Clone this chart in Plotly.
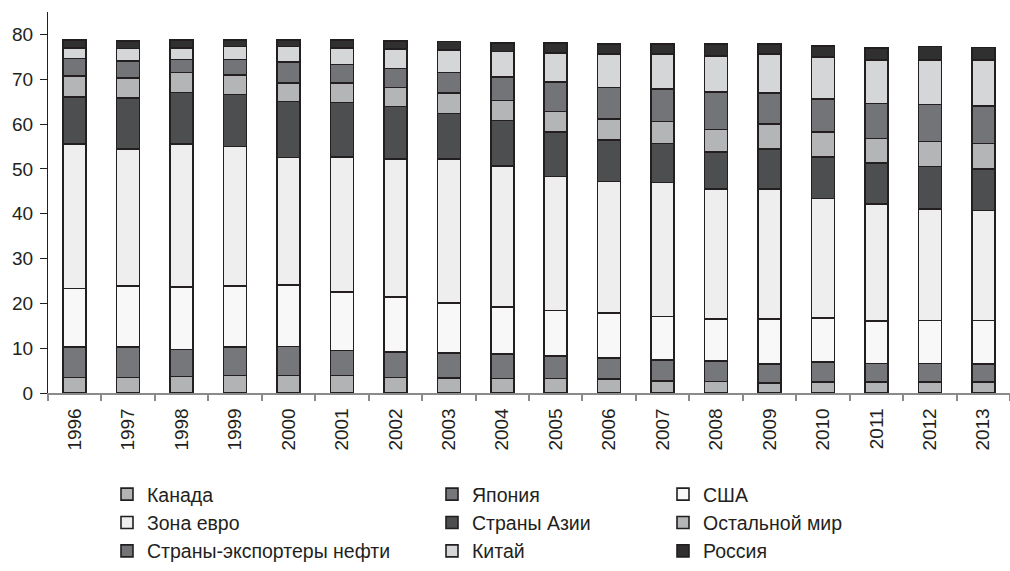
import plotly.graph_objects as go

years = [str(y) for y in range(1996, 2014)]

canada = [3.5, 3.5, 3.7, 3.9, 3.9, 3.9, 3.5, 3.3, 3.2, 3.2, 3.1, 2.7, 2.6, 2.2, 2.4, 2.4, 2.4, 2.4]
japan = [6.7, 6.7, 6.0, 6.3, 6.5, 5.6, 5.6, 5.6, 5.5, 5.1, 4.7, 4.7, 4.6, 4.3, 4.5, 4.2, 4.2, 4.1]
usa = [13.1, 13.7, 13.9, 13.7, 13.7, 13.1, 12.3, 11.2, 10.5, 10.1, 10.0, 9.7, 9.3, 10.0, 9.8, 9.4, 9.6, 9.7]
euro = [32.3, 30.5, 32.0, 31.1, 28.4, 30.0, 30.8, 32.1, 31.5, 29.9, 29.4, 29.9, 29.0, 29.0, 26.7, 26.2, 24.9, 24.5]
asia = [10.5, 11.4, 11.4, 11.6, 12.5, 12.2, 11.7, 10.2, 10.1, 9.9, 9.3, 8.7, 8.3, 9.0, 9.3, 9.1, 9.4, 9.3]
rest = [4.6, 4.5, 4.5, 4.3, 4.1, 4.3, 4.3, 4.5, 4.5, 4.6, 4.6, 4.9, 5.0, 5.5, 5.5, 5.5, 5.6, 5.7]
oil = [3.9, 3.8, 2.9, 3.5, 4.7, 4.2, 4.2, 4.6, 5.2, 6.6, 7.1, 7.2, 8.4, 6.9, 7.4, 7.8, 8.3, 8.3]
china = [2.4, 2.8, 2.6, 2.9, 3.5, 3.7, 4.3, 5.0, 5.7, 6.5, 7.4, 7.8, 8.0, 8.7, 9.3, 9.7, 9.9, 10.3]
russia = [1.8, 1.6, 1.7, 1.4, 1.5, 1.8, 1.8, 1.9, 1.9, 2.2, 2.2, 2.3, 2.7, 2.2, 2.5, 2.7, 3.0, 2.8]

series_names = ["Канада", "Япония", "США", "Зона евро", "Страны Азии",
                "Остальной мир", "Страны-экспортеры нефти", "Китай", "Россия"]
series_values = [canada, japan, usa, euro, asia, rest, oil, china, russia]
series_colors = ["#b2b3b5", "#76777b", "#f8f8f8", "#eeeeee", "#4d4e50",
                 "#b4b5b7", "#737478", "#d5d6d8", "#303031"]
# legend column for each series (row-major 3 columns)
series_legend = ["legend", "legend2", "legend3",
                 "legend", "legend2", "legend3",
                 "legend", "legend2", "legend3"]

FONT = "Liberation Sans, Arial, sans-serif"
TXT = "#231f20"

fig = go.Figure()
for name, vals, col, lg in zip(series_names, series_values, series_colors, series_legend):
    fig.add_trace(go.Bar(
        x=years, y=vals, name=name,
        marker=dict(color=col, line=dict(color=TXT, width=1.6)),
        legend=lg, legendgroup=name,
    ))

leg_common = dict(
    orientation="v", traceorder="normal", tracegroupgap=13,
    font=dict(family=FONT, size=19.5, color=TXT),
    bgcolor="rgba(0,0,0,0)", borderwidth=0,
    xref="container", yref="container", xanchor="left", yanchor="top",
)

fig.update_layout(
    width=1010, height=571,
    barmode="stack", bargap=0.57,
    paper_bgcolor="white", plot_bgcolor="white",
    margin=dict(l=48, r=0, t=12, b=178, autoexpand=False),
    font=dict(family=FONT, size=19, color=TXT),
    legend=dict(x=107 / 1010, y=1 - 475 / 571, **leg_common),
    legend2=dict(x=432 / 1010, y=1 - 475 / 571, **leg_common),
    legend3=dict(x=663 / 1010, y=1 - 475 / 571, **leg_common),
    xaxis=dict(
        type="category", tickson="boundaries",
        ticks="outside", ticklen=6, tickcolor="#8a8a8a", tickwidth=1.5,
        showline=True, linecolor="#8a8a8a", linewidth=1.5,
        tickangle=-90, tickfont=dict(family=FONT, size=19, color=TXT),
        showgrid=False, zeroline=False, ticklabelstandoff=6,
    ),
    yaxis=dict(
        range=[0, 85], tickvals=[0, 10, 20, 30, 40, 50, 60, 70, 80],
        ticks="outside", ticklen=7, tickcolor=TXT, tickwidth=1,
        showline=True, linecolor=TXT, linewidth=1.2,
        tickfont=dict(family=FONT, size=19, color=TXT),
        showgrid=False, zeroline=False, ticklabelstandoff=3,
    ),
)

fig.write_html("out.html", config={"displayModeBar": False},
               post_script="document.body.style.margin='0';")
